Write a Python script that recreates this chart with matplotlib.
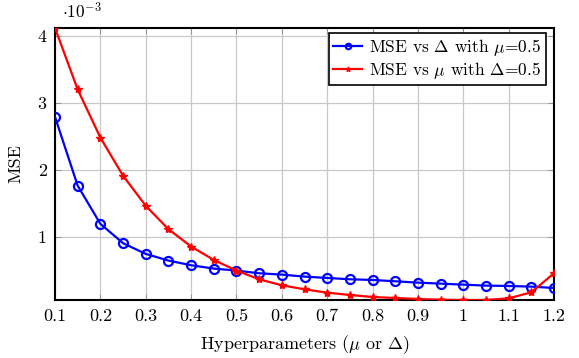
import matplotlib
matplotlib.use("Agg")
import matplotlib.pyplot as plt

plt.rcParams['font.family'] = 'serif'
plt.rcParams['font.serif'] = ['cmr10', 'DejaVu Serif']
plt.rcParams['mathtext.fontset'] = 'cm'
plt.rcParams['axes.unicode_minus'] = False

# hyperparameter values (x axis)
x_vals = [0.1, 0.15, 0.2, 0.25, 0.3, 0.35, 0.4, 0.45, 0.5, 0.55, 0.6, 0.65,
          0.7, 0.75, 0.8, 0.85, 0.9, 0.95, 1.0, 1.05, 1.1, 1.15, 1.2]

# MSE (x 1e-3) vs Delta with mu = 0.5
mse_delta = [2.79, 1.76, 1.19, 0.90, 0.74, 0.64, 0.57, 0.52, 0.49, 0.45, 0.43, 0.40,
             0.38, 0.36, 0.35, 0.33, 0.31, 0.295, 0.28, 0.265, 0.26, 0.25, 0.23]

# MSE (x 1e-3) vs mu with Delta = 0.5
mse_mu = [4.12, 3.20, 2.48, 1.91, 1.46, 1.11, 0.85, 0.65, 0.49, 0.36, 0.27, 0.21,
          0.16, 0.125, 0.095, 0.08, 0.065, 0.055, 0.05, 0.05, 0.075, 0.165, 0.45]

x_ticks = [0.1, 0.2, 0.3, 0.4, 0.5, 0.6, 0.7, 0.8, 0.9, 1.0, 1.1, 1.2]
x_ticklabels = ['0.1', '0.2', '0.3', '0.4', '0.5', '0.6', '0.7', '0.8', '0.9', '1', '1.1', '1.2']
y_ticks = [1, 2, 3, 4]

fig = plt.figure(figsize=(5.79, 3.58), dpi=100)
ax = fig.add_axes([55 / 579, 58 / 358, 499 / 579, 272 / 358])

ax.plot(x_vals, mse_delta, color='blue', linewidth=1.6, marker='o', markersize=6.5,
        markerfacecolor='none', markeredgewidth=1.6,
        label=r'MSE vs $\Delta$ with $\mu$=0.5', zorder=3)
ax.plot(x_vals, mse_mu, color='red', linewidth=1.6, marker='*', markersize=6,
        label=r'MSE vs $\mu$ with $\Delta$=0.5', zorder=3)

ax.set_xlim(min(x_vals), max(x_vals))
ax.set_ylim(min(mse_mu), max(mse_mu))
ax.set_xticks(x_ticks)
ax.set_xticklabels(x_ticklabels)
ax.set_yticks(y_ticks)

ax.grid(True, color='#c8c8c8', linewidth=0.9)
ax.set_axisbelow(True)
ax.tick_params(direction='in', top=True, right=True, length=4, width=0.6,
               color='#888888', labelsize=13, pad=6)
for s in ax.spines.values():
    s.set_linewidth(1.5)
    s.set_color('black')

ax.set_xlabel(r'Hyperparameters ($\mu$ or $\Delta$)', fontsize=13, labelpad=7)
ax.set_ylabel('MSE', fontsize=13, labelpad=10)
ax.text(0.014, 1.037, r'$\cdot10^{-3}$', transform=ax.transAxes, fontsize=12.5,
        ha='left', va='baseline')

leg = ax.legend(loc='upper right', bbox_to_anchor=(0.983, 0.983), fontsize=12.5,
                fancybox=False, framealpha=1, edgecolor='black', borderpad=0.25,
                handlelength=1.7, handletextpad=0.4, labelspacing=0.12,
                borderaxespad=0.0, markerscale=0.6)
leg.get_frame().set_linewidth(1.2)

fig.savefig('out.png', dpi=100)
